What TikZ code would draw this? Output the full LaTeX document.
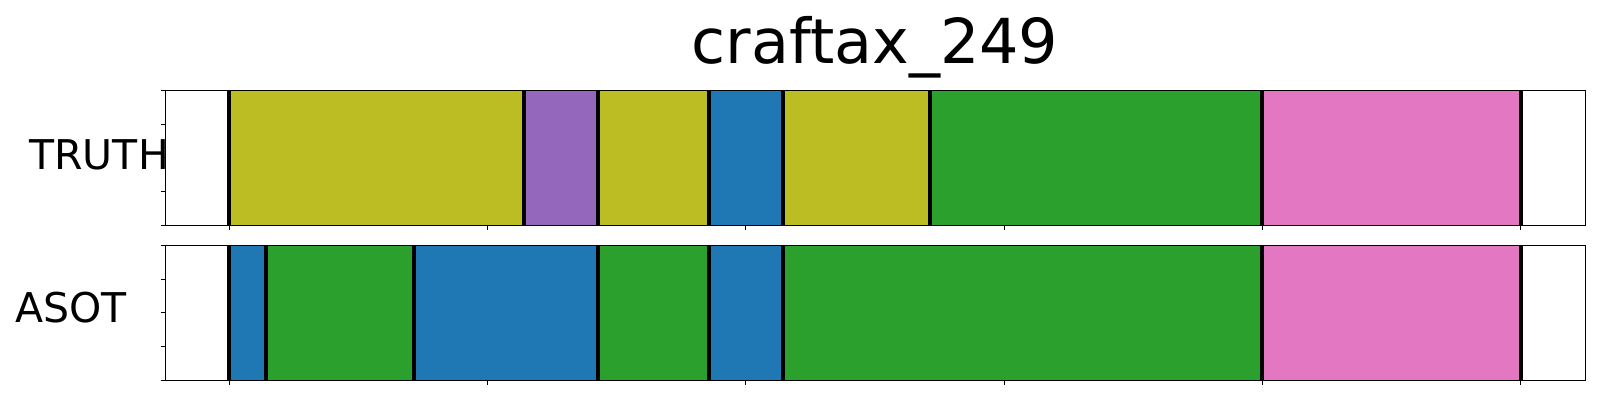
\documentclass[tikz,border=0pt]{standalone}
\usepackage{fontspec}
\setmainfont{DejaVu Sans}
\definecolor{tabolive}{HTML}{BCBD22}
\definecolor{tabpurple}{HTML}{9467BD}
\definecolor{tabblue}{HTML}{1F77B4}
\definecolor{tabgreen}{HTML}{2CA02C}
\definecolor{tabpink}{HTML}{E377C2}
\tikzset{
	cutline/.style={line width=2.1pt, color=black},
	axisframe/.style={line width=0.6pt, color=black},
	tickmark/.style={line width=0.4pt, color=black},
	rowlabel/.style={inner sep=0pt, font=\fontsize{20.5pt}{24pt}\selectfont},
}
% one coloured run between two x positions, in a panel from top y to bottom y
\def\segment[#1](#2:#3)(#4:#5){\fill[#1] (#2, #4) rectangle (#3, #5);}

\begin{document}
\begin{tikzpicture}[x=0.5pt, y=-0.5pt]
			%%%%% START %%%%%
			\useasboundingbox (0, 0) rectangle (1600, 400);
			
			\node[inner sep=0pt, anchor=base, font=\fontsize{31pt}{36pt}\selectfont] (title) at (875, 63.3) {craftax\_249};
			
			% TRUTH row
			\segment[tabolive](229:524)(90.3:225.3);
			\segment[tabpurple](524:597.7)(90.3:225.3);
			\segment[tabolive](597.7:708.7)(90.3:225.3);
			\segment[tabblue](708.7:783)(90.3:225.3);
			\segment[tabolive](783:929.7)(90.3:225.3);
			\segment[tabgreen](929.7:1262)(90.3:225.3);
			\segment[tabpink](1262:1520.7)(90.3:225.3);
			
			\draw[cutline] (229, 90.3) -- (229, 225.3);
			\draw[cutline] (524, 90.3) -- (524, 225.3);
			\draw[cutline] (597.7, 90.3) -- (597.7, 225.3);
			\draw[cutline] (708.7, 90.3) -- (708.7, 225.3);
			\draw[cutline] (783, 90.3) -- (783, 225.3);
			\draw[cutline] (929.7, 90.3) -- (929.7, 225.3);
			\draw[cutline] (1262, 90.3) -- (1262, 225.3);
			\draw[cutline] (1520.7, 90.3) -- (1520.7, 225.3);
			
			\draw[axisframe] (165.7, 90.3) rectangle (1585.3, 225.3);
			
			% ASOT row
			\segment[tabblue](229:266)(245.5:380.3);
			\segment[tabgreen](266:413.7)(245.5:380.3);
			\segment[tabblue](413.7:597.7)(245.5:380.3);
			\segment[tabgreen](597.7:708.7)(245.5:380.3);
			\segment[tabblue](708.7:783)(245.5:380.3);
			\segment[tabgreen](783:1262)(245.5:380.3);
			\segment[tabpink](1262:1520.7)(245.5:380.3);
			
			\draw[cutline] (229, 245.5) -- (229, 380.3);
			\draw[cutline] (266, 245.5) -- (266, 380.3);
			\draw[cutline] (413.7, 245.5) -- (413.7, 380.3);
			\draw[cutline] (597.7, 245.5) -- (597.7, 380.3);
			\draw[cutline] (708.7, 245.5) -- (708.7, 380.3);
			\draw[cutline] (783, 245.5) -- (783, 380.3);
			\draw[cutline] (1262, 245.5) -- (1262, 380.3);
			\draw[cutline] (1520.7, 245.5) -- (1520.7, 380.3);
			
			\draw[axisframe] (165.7, 245.5) rectangle (1585.3, 380.3);
			
			% ticks
			\foreach \t in {0, 1, 2, 3, 4} {
				\draw[tickmark] (160.7, 90.3 + 33.75*\t) -- (165.7, 90.3 + 33.75*\t);
				\draw[tickmark] (160.7, 245.5 + 33.7*\t) -- (165.7, 245.5 + 33.7*\t);
			}
			\foreach \t in {0, 1, 2, 3, 4, 5} {
				\draw[tickmark] (229 + 258.34*\t, 225.3) -- (229 + 258.34*\t, 230);
				\draw[tickmark] (229 + 258.34*\t, 380.3) -- (229 + 258.34*\t, 385);
			}
			
			\node[rowlabel, anchor=base west] (truth) at (29, 169.3) {TRUTH};
			\node[rowlabel, anchor=base west] (asot) at (15, 322.7) {ASOT};
			
			%%%%% END %%%%%
		\end{tikzpicture}
\end{document}
